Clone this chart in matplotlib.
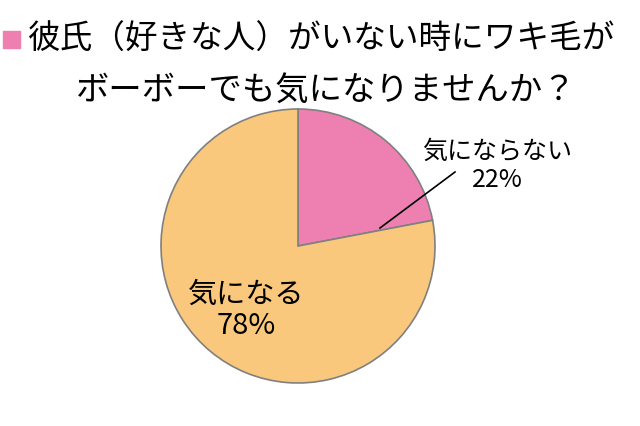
import matplotlib
matplotlib.use('Agg')
import matplotlib.pyplot as plt

plt.rcParams['font.family'] = ['Noto Sans CJK JP', 'DejaVu Sans']

labels = ['気にならない', '気になる']
values = [22, 78]
colors = ['#ee7fb1', '#f9c87c']
title_lines = ['彼氏（好きな人）がいない時にワキ毛が', 'ボーボーでも気になりませんか？']

fig = plt.figure(figsize=(6.4, 4.26), dpi=100, facecolor='white')

# pie: center ~ (298, 246) px, radius ~137 px
ax = fig.add_axes([(298 - 137) / 640, (426 - 246 - 137) / 426, 274 / 640, 274 / 426])
ax.pie(values, colors=colors, startangle=90, counterclock=False,
       wedgeprops=dict(edgecolor='#808080', linewidth=1.2))
ax.set_aspect('equal')
ax.set_xlim(-1, 1)
ax.set_ylim(-1, 1)
ax.axis('off')

# title with pink square marker
fig.patches.append(plt.Rectangle((3 / 640, (426 - 48) / 426), 17 / 640, 17 / 426,
                                 transform=fig.transFigure, color=colors[0]))
fig.text(28 / 640, 1 - 40 / 426, title_lines[0], fontsize=23.5, va='center', ha='left')
fig.text(326 / 640, 1 - 90 / 426, title_lines[1], fontsize=24, va='center', ha='center')

# slice labels
fig.text(497 / 640, 1 - 166 / 426, f'{labels[0]}\n{values[0]}%', fontsize=18,
         ha='center', va='center', linespacing=1.1)
fig.text(246 / 640, 1 - 310 / 426, f'{labels[1]}\n{values[1]}%', fontsize=21,
         ha='center', va='center', linespacing=1.05)
fig.add_artist(plt.Line2D([380 / 640, 455 / 640], [1 - 228 / 426, 1 - 172 / 426],
                          transform=fig.transFigure, color='black', linewidth=1.2))

fig.savefig('out.png', dpi=100, facecolor='white')
